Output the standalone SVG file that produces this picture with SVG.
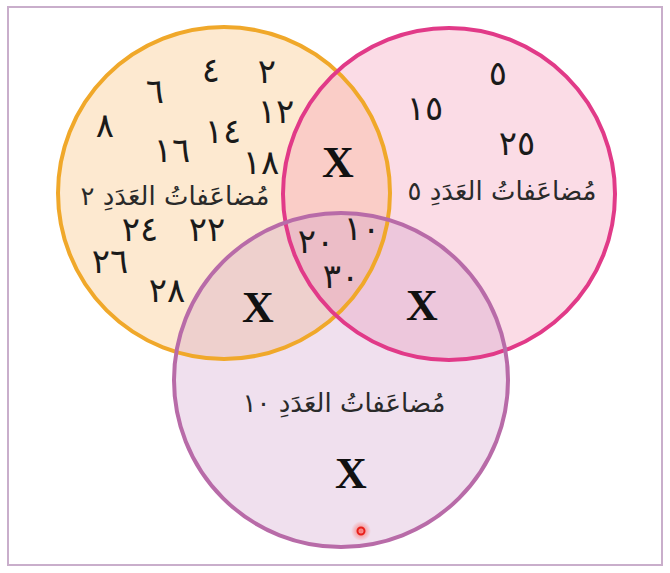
<svg xmlns="http://www.w3.org/2000/svg" width="670" height="573" viewBox="0 0 670 573">
<defs>
<style>
.num{font-family:"DejaVu Sans",sans-serif;font-size:34px;letter-spacing:-5px;fill:#1a1a1a;text-anchor:middle;direction:rtl}
.lbl{font-family:"DejaVu Sans",sans-serif;font-size:26px;fill:#2a2a2a;text-anchor:middle;direction:rtl}
.x{font-family:"Liberation Serif",serif;font-weight:bold;font-size:44px;fill:#111;text-anchor:middle}
</style>
<radialGradient id="glow"><stop offset="0" stop-color="#ff3020" stop-opacity="0.6"/><stop offset="1" stop-color="#ff3020" stop-opacity="0"/></radialGradient>
</defs>
<rect x="0" y="0" width="670" height="573" fill="#fff"/>
<rect x="8" y="7" width="654" height="558" fill="#fff" stroke="#c9aecb" stroke-width="2"/>
<g id="fills">
<circle cx="224" cy="193" r="166" fill="#fbc98a" fill-opacity="0.4"/>
<circle cx="449" cy="194" r="166" fill="#f49ab8" fill-opacity="0.35"/>
<circle cx="341" cy="380" r="167" fill="#cc98c6" fill-opacity="0.3"/>
</g>
<g id="set2">
<circle cx="224" cy="193" r="166" fill="none" stroke="#f0a82a" stroke-width="4"/>
</g>
<g id="set5">
<circle cx="449" cy="194" r="166" fill="none" stroke="#e13a88" stroke-width="4"/>
</g>
<g id="set10">
<circle cx="341" cy="380" r="167" fill="none" stroke="#b86ba8" stroke-width="4"/>
</g>
<g id="labels">
<text class="num" x="267" y="83">٢</text>
<text class="num" x="211" y="82">٤</text>
<text class="num" x="155" y="103">٦</text>
<text class="num" x="276" y="123">١٢</text>
<text class="num" x="105" y="137">٨</text>
<text class="num" x="223" y="143">١٤</text>
<text class="num" x="172" y="162">١٦</text>
<text class="num" x="261" y="174">١٨</text>
<text class="lbl" x="175" y="205">مُضاعَفاتُ العَدَدِ ٢</text>
<text class="num" x="140" y="241">٢٤</text>
<text class="num" x="207" y="241">٢٢</text>
<text class="num" x="110" y="273">٢٦</text>
<text class="num" x="167" y="302">٢٨</text>
<text class="num" x="498" y="85">٥</text>
<text class="num" x="425" y="120">١٥</text>
<text class="num" x="517" y="155">٢٥</text>
<text class="lbl" x="502" y="200">مُضاعَفاتُ العَدَدِ ٥</text>
<text class="x" x="338" y="177">X</text>
<text class="num" x="362" y="240">١٠</text>
<text class="num" x="316" y="253">٢٠</text>
<text class="num" x="341" y="288">٣٠</text>
<text class="x" x="258" y="322">X</text>
<text class="x" x="422" y="320">X</text>
<text class="lbl" x="344" y="412">مُضاعَفاتُ العَدَدِ ١٠</text>
<text class="x" x="351" y="488">X</text>
</g>
<g id="pointer">
<circle cx="361" cy="531" r="10" fill="url(#glow)"/>
<circle cx="361" cy="531" r="3.5" fill="none" stroke="#e8201a" stroke-width="2"/>
</g>
</svg>
